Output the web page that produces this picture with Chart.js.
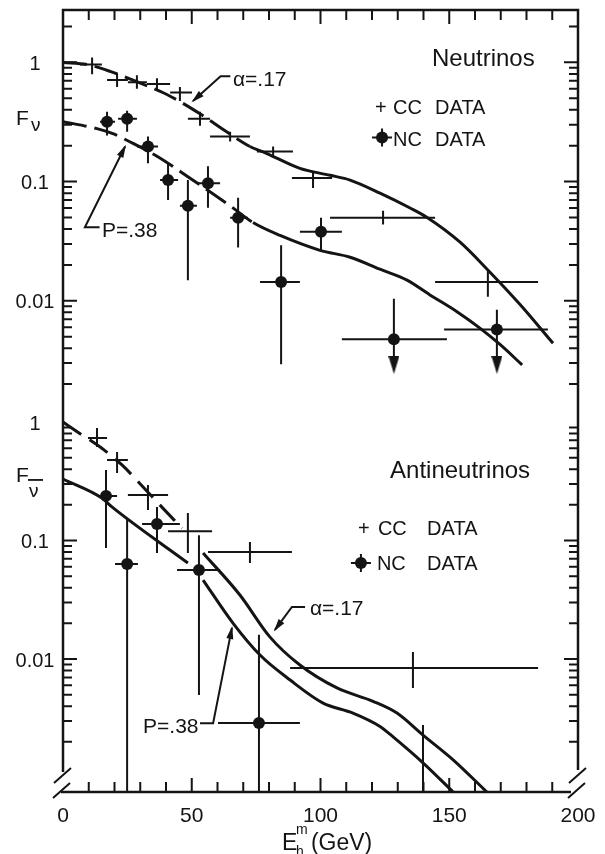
<!DOCTYPE html>
<html>
<head>
<meta charset="utf-8">
<script src="https://cdn.jsdelivr.net/npm/chart.js@4.4.1/dist/chart.umd.min.js"></script>
<style>
  html, body { margin: 0; padding: 0; background: #fff; }
  #wrap { position: relative; width: 605px; height: 854px; }
  #wrap canvas { position: absolute; left: 0; top: 0; }
</style>
</head>
<body>
<div id="wrap">
  <canvas id="nuChart" width="605" height="854"></canvas>
  <canvas id="nubarChart" width="605" height="854"></canvas>
</div>
<script>
// ---------- neutrinos (upper panel) ----------
const ccNuE   = [11.3, 21.0, 28.7, 36.5, 45.4, 53.2, 64.9, 81.6, 97.1, 124.3, 165.0];
const ccNuELo = [6.6, 17.1, 25.2, 32.6, 41.6, 48.5, 57.1, 75.3, 88.9, 103.7, 144.5];
const ccNuEHi = [15.1, 25.2, 32.6, 41.6, 50.1, 57.1, 72.6, 89.3, 104.5, 144.5, 184.5];
const ccNuF   = [0.96, 0.71, 0.68, 0.66, 0.56, 0.336, 0.239, 0.179, 0.107, 0.0498, 0.0144];
const ccNuFLo = [0.795, 0.62, 0.60, 0.586, 0.475, 0.294, 0.217, 0.163, 0.0883, 0.0436, 0.0108];
const ccNuFHi = [1.10, 0.81, 0.78, 0.736, 0.62, 0.385, 0.262, 0.197, 0.122, 0.0569, 0.0185];

const ncNuE   = [17.1, 24.9, 33.0, 40.8, 48.5, 56.3, 68.0, 84.7, 100.2, 128.5, 168.5];
const ncNuELo = [14.4, 21.4, 28.7, 37.7, 45.4, 52.4, 64.9, 76.5, 92.0, 108.3, 148.0];
const ncNuEHi = [20.2, 28.7, 36.9, 44.7, 52.0, 61.0, 71.8, 92.0, 108.3, 149.1, 188.3];
const ncNuF   = [0.318, 0.336, 0.197, 0.103, 0.0626, 0.097, 0.0498, 0.0144, 0.038, 0.00475, 0.00575];
const ncNuFLo = [0.243, 0.262, 0.1425, 0.0702, 0.0149, 0.0603, 0.028, 0.00294, 0.0265, 0.0029, 0.0029];
const ncNuFHi = [0.385, 0.392, 0.239, 0.1425, 0.103, 0.1345, 0.073, 0.0292, 0.0498, 0.0104, 0.0084];
// upper limits -> arrow heads
const ulNuE = [128.5, 168.5];
const ulNuF = [0.0029, 0.0029];

const fitAlphaNuE = [0, 9.3, 18.3, 33.8, 41.6, 53.2, 63.7, 72.6, 79.2, 92.0, 103.7, 111.5, 123.1, 134.8, 141.4, 154.2, 164.7, 177.5, 190.3];
const fitAlphaNuF = [1.0, 0.96, 0.84, 0.62, 0.52, 0.37, 0.26, 0.197, 0.172, 0.129, 0.113, 0.103, 0.080, 0.060, 0.050, 0.031, 0.0184, 0.0093, 0.0044];
const fitPNuE = [0, 13.2, 19.4, 27.2, 36.5, 48.2, 64.9, 73.8, 84.3, 99.8, 111.5, 123.1, 133.6, 142.5, 153.0, 161.9, 169.7, 178.3];
const fitPNuF = [0.318, 0.278, 0.252, 0.209, 0.163, 0.111, 0.0626, 0.0453, 0.0353, 0.0265, 0.0232, 0.0184, 0.0149, 0.0112, 0.0081, 0.0059, 0.0043, 0.0029];

// ---------- antineutrinos (lower panel) ----------
const ccBarE   = [13.2, 21.0, 33.0, 48.5, 72.6, 135.9, 139.8];
const ccBarELo = [9.7, 17.1, 25.2, 40.8, 56.3, 88.2, 139.8];
const ccBarEHi = [17.1, 25.2, 40.8, 57.9, 88.9, 184.5, 139.8];
const ccBarF   = [0.733, 0.478, 0.242, 0.12, 0.080, 0.0084, 0.0005];
const ccBarFLo = [0.615, 0.371, 0.181, 0.0785, 0.0646, 0.00569, 0.0003];
const ccBarFHi = [0.89, 0.558, 0.294, 0.171, 0.097, 0.01146, 0.00277];

const ncBarE   = [16.7, 24.9, 36.5, 52.8, 76.1];
const ncBarELo = [13.2, 20.2, 30.7, 44.3, 60.2];
const ncBarEHi = [21.0, 29.1, 45.4, 61.0, 92.0];
const ncBarF   = [0.238, 0.0634, 0.138, 0.0564, 0.00288];
const ncBarFLo = [0.0865, 0.0003, 0.0785, 0.00497, 0.0003];
const ncBarFHi = [0.394, 0.155, 0.192, 0.111, 0.016];

const fitAlphaLowE  = [0, 5.8, 15.1, 18.3, 22.9, 31.1, 36.9, 46.2];
const fitAlphaLowF  = [1.0, 0.82, 0.60, 0.527, 0.434, 0.283, 0.207, 0.127];
const fitAlphaHighE = [54.4, 68.7, 80.4, 92.0, 106.4, 120.4, 129.7, 139.8, 151.5, 165.0];
const fitAlphaHighF = [0.0785, 0.0347, 0.0153, 0.0089, 0.0057, 0.0044, 0.0035, 0.00228, 0.00141, 0.00074];
const fitPLowE  = [0, 15.1, 19.0, 48.5];
const fitPLowF  = [0.33, 0.228, 0.192, 0.0646];
const fitPHighE = [54.4, 66.0, 76.5, 88.2, 101.0, 112.6, 123.1, 128.2, 139.8, 151.5];
const fitPHighF = [0.0464, 0.0201, 0.0108, 0.00665, 0.00425, 0.0035, 0.0027, 0.0022, 0.00133, 0.000755];

// ---------- axes ----------
const xTickValues = [10, 20, 30, 40, 50, 60, 70, 80, 90, 100, 110, 120, 130, 140, 150, 160, 170, 180, 190];
const xLabelValues = [0, 50, 100, 150, 200];
const xTickLabels = ['0', '50', '100', '150', '200'];
const yLabelValues = [1, 0.1, 0.01];
const yTickLabels = ['1', '0.1', '0.01'];

const ink = '#141414';
const fontFam = '"Liberation Sans", Arial, sans-serif';

// arrow head used as point style for the upper limits
const arrowHead = document.createElement('canvas');
arrowHead.width = 11; arrowHead.height = 18;
(function () {
  const g = arrowHead.getContext('2d');
  g.fillStyle = ink;
  g.beginPath(); g.moveTo(0, 0); g.lineTo(11, 0); g.lineTo(5.5, 18); g.closePath(); g.fill();
})();

function pts(E, F) { return E.map((v, i) => ({ x: v, y: F[i] })); }
function hBars(lo, hi, F) {
  const d = [];
  lo.forEach((v, i) => d.push({ x: v, y: F[i] }, { x: hi[i], y: F[i] }, { x: hi[i], y: null }));
  return d;
}
function vBars(E, lo, hi) {
  const d = [];
  E.forEach((v, i) => d.push({ x: v, y: lo[i] }, { x: v, y: hi[i] }, { x: v, y: null }));
  return d;
}
function barSet(data) {
  return { data, borderColor: ink, borderWidth: 2, pointRadius: 0, showLine: true, spanGaps: false };
}
function curveSet(data, extra) {
  return Object.assign({ data, borderColor: ink, borderWidth: 3, pointRadius: 0, showLine: true,
    cubicInterpolationMode: 'monotone', borderCapStyle: 'butt' }, extra || {});
}
function markSet(data) {
  return { data, showLine: false, pointRadius: 6, pointStyle: 'circle', backgroundColor: ink, borderWidth: 0 };
}

// ---------- frame, ticks and texts ----------
function framePlugin(cfg) {
  return {
    id: 'frame',
    afterDatasetsDraw(chart) {
      const { ctx, chartArea: a } = chart;
      const sx = chart.scales.x, sy = chart.scales.y;
      const px = v => sx.getPixelForValue(v), py = v => sy.getPixelForValue(v);
      ctx.save();
      ctx.strokeStyle = ink; ctx.fillStyle = ink;

      ctx.lineWidth = 2.5;
      ctx.beginPath();
      const t0 = cfg.top ? a.top - 1.25 : a.top;
      ctx.moveTo(a.left, t0); ctx.lineTo(a.left, cfg.bottom ? a.bottom - 20 : a.bottom);
      ctx.moveTo(a.right, t0); ctx.lineTo(a.right, cfg.bottom ? a.bottom - 22 : a.bottom);
      if (cfg.top) { ctx.moveTo(a.left, a.top); ctx.lineTo(a.right, a.top); }
      if (cfg.bottom) { ctx.moveTo(a.left - 2, a.bottom); ctx.lineTo(a.right - 7, a.bottom); }
      ctx.stroke();

      ctx.lineWidth = 2;
      ctx.beginPath();
      if (cfg.bottom) {
        [a.left, a.right].forEach(cx => {
          ctx.moveTo(cx - 9, a.bottom - 9); ctx.lineTo(cx + 8, a.bottom - 24);
          ctx.moveTo(cx - 10, a.bottom + 6); ctx.lineTo(cx + 7, a.bottom - 9);
        });
      }
      const lo = Math.floor(Math.log10(sy.min)), hi = Math.ceil(Math.log10(sy.max));
      for (let e = lo; e <= hi; e++) {
        for (let d = 1; d <= 9; d++) {
          const y = py(d * Math.pow(10, e));
          if (y < a.top + 2 || y > (cfg.bottom ? a.bottom - 30 : a.bottom - 3)) continue;
          const len = d === 1 ? 14 : 9;
          ctx.moveTo(a.left, y); ctx.lineTo(a.left + len, y);
          ctx.moveTo(a.right, y); ctx.lineTo(a.right - len, y);
        }
      }
      xTickValues.forEach(v => {
        const x = px(v), len = v % 50 === 0 ? 14 : 10;
        if (cfg.top) { ctx.moveTo(x, a.top); ctx.lineTo(x, a.top + len); }
        if (cfg.bottom) { ctx.moveTo(x, a.bottom); ctx.lineTo(x, a.bottom - len); }
      });
      ctx.stroke();

      // y labels
      ctx.font = `20px ${fontFam}`;
      ctx.textAlign = 'center'; ctx.textBaseline = 'middle';
      yLabelValues.forEach((v, i) => ctx.fillText(yTickLabels[i], 35, py(v) + 2));

      ctx.textBaseline = 'alphabetic';
      if (cfg.bottom) {
        ctx.font = `21px ${fontFam}`;
        xLabelValues.forEach((v, i) => ctx.fillText(xTickLabels[i], px(v), a.bottom + 30));
        const ex = px(85);
        ctx.textAlign = 'left';
        ctx.font = `23px ${fontFam}`;
        ctx.fillText('E', ex, a.bottom + 58);
        ctx.fillText('(GeV)', ex + 29, a.bottom + 58);
        ctx.font = `14px ${fontFam}`;
        ctx.fillText('m', ex + 14, a.bottom + 42);
        ctx.fillText('h', ex + 14, a.bottom + 64);
      }

      // y title
      ctx.textAlign = 'left';
      const fy = py(cfg.yTitle.y);
      ctx.font = `21px ${fontFam}`;
      ctx.fillText('F', 16, fy);
      ctx.font = `19px ${fontFam}`;
      if (cfg.yTitle.bar) {
        ctx.fillText('\u03bd', 29, fy + 15);
        ctx.lineWidth = 1.8;
        ctx.beginPath(); ctx.moveTo(28, fy - 2); ctx.lineTo(43, fy - 2); ctx.stroke();
      } else {
        ctx.fillText('\u03bd', 31, fy + 6);
      }

      // texts
      cfg.texts.forEach(t => {
        ctx.font = `${t.size}px ${fontFam}`;
        ctx.textAlign = 'left';
        ctx.fillText(t.t, px(t.x), py(t.y));
      });

      // NC legend marker
      const mx = px(cfg.ncMarker.x), my = py(cfg.ncMarker.y);
      ctx.beginPath(); ctx.arc(mx, my, 6, 0, Math.PI * 2); ctx.fill();
      ctx.lineWidth = 2;
      ctx.beginPath();
      ctx.moveTo(mx - 10, my); ctx.lineTo(mx + 10, my);
      ctx.moveTo(mx, my - 9); ctx.lineTo(mx, my + 9);
      ctx.stroke();

      // leader lines with arrow heads
      cfg.leaders.forEach(l => {
        const p = l.map(q => [px(q[0]), py(q[1])]);
        ctx.lineWidth = 2;
        ctx.beginPath();
        p.forEach((q, i) => i ? ctx.lineTo(q[0], q[1]) : ctx.moveTo(q[0], q[1]));
        ctx.stroke();
        const [x1, y1] = p[p.length - 2], [x2, y2] = p[p.length - 1];
        const ang = Math.atan2(y2 - y1, x2 - x1);
        ctx.save();
        ctx.translate(x2, y2); ctx.rotate(ang);
        ctx.beginPath(); ctx.moveTo(2, 0); ctx.lineTo(-11, -3.5); ctx.lineTo(-11, 3.5); ctx.closePath(); ctx.fill();
        ctx.restore();
      });
      ctx.restore();
    }
  };
}

function baseOptions(padding, yMin, yMax) {
  return {
    responsive: false, animation: false, events: [],
    layout: { padding },
    plugins: { legend: { display: false }, tooltip: { enabled: false } },
    scales: {
      x: { type: 'linear', min: 0, max: 200, display: false },
      y: { type: 'logarithmic', min: yMin, max: yMax, display: false, bounds: 'data' }
    }
  };
}

const dashEarly = { segment: { borderDash: c => (c.p0.parsed.x < 70 ? [24, 8] : undefined) } };

new Chart(document.getElementById('nuChart'), {
  type: 'line',
  data: {
    datasets: [
      curveSet(pts(fitAlphaNuE, fitAlphaNuF), dashEarly),
      curveSet(pts(fitPNuE, fitPNuF), dashEarly),
      barSet(hBars(ccNuELo, ccNuEHi, ccNuF)),
      barSet(vBars(ccNuE, ccNuFLo, ccNuFHi)),
      barSet(hBars(ncNuELo, ncNuEHi, ncNuF)),
      barSet(vBars(ncNuE, ncNuFLo, ncNuFHi)),
      markSet(pts(ncNuE, ncNuF)),
      { data: pts(ulNuE, ulNuF), showLine: false, pointStyle: arrowHead, pointRadius: 9 }
    ]
  },
  options: baseOptions({ left: 63, right: 27, top: 5, bottom: 434 }, 0.001, 2.75),
  plugins: [framePlugin({
    top: true, bottom: false,
    yTitle: { y: 0.30, bar: false },
    ncMarker: { x: 123.9, y: 0.234 },
    texts: [
      { t: 'Neutrinos', x: 143.3, y: 0.926, size: 24 },
      { t: '+', x: 121.2, y: 0.37, size: 20 },
      { t: 'CC', x: 128.2, y: 0.37, size: 20 },
      { t: 'DATA', x: 144.5, y: 0.37, size: 20 },
      { t: 'NC', x: 128.2, y: 0.197, size: 20 },
      { t: 'DATA', x: 144.5, y: 0.197, size: 20 },
      { t: '\u03b1=.17', x: 66.0, y: 0.632, size: 21 },
      { t: 'P=.38', x: 15.1, y: 0.034, size: 21 }
    ],
    leaders: [
      [[65.0, 0.765], [61.2, 0.765], [50.5, 0.475]],
      [[14.2, 0.0413], [8.5, 0.0413], [24.1, 0.197]]
    ]
  })]
});

new Chart(document.getElementById('nubarChart'), {
  type: 'line',
  data: {
    datasets: [
      curveSet(pts(fitAlphaLowE, fitAlphaLowF), { borderDash: [22, 10] }),
      curveSet(pts(fitPLowE, fitPLowF)),
      curveSet(pts(fitAlphaHighE, fitAlphaHighF)),
      curveSet(pts(fitPHighE, fitPHighF)),
      barSet(hBars(ccBarELo, ccBarEHi, ccBarF)),
      barSet(vBars(ccBarE, ccBarFLo, ccBarFHi)),
      barSet(hBars(ncBarELo, ncBarEHi, ncBarF)),
      barSet(vBars(ncBarE, ncBarFLo, ncBarFHi)),
      markSet(pts(ncBarE, ncBarF))
    ]
  },
  options: baseOptions({ left: 63, right: 27, top: 420, bottom: 62 }, 0.000755, 1.0396),
  plugins: [framePlugin({
    top: false, bottom: true,
    yTitle: { y: 0.312, bar: true },
    ncMarker: { x: 115.7, y: 0.0646 },
    texts: [
      { t: 'Antineutrinos', x: 127.0, y: 0.337, size: 24 },
      { t: '+', x: 114.6, y: 0.111, size: 20 },
      { t: 'CC', x: 122.3, y: 0.111, size: 20 },
      { t: 'DATA', x: 141.4, y: 0.111, size: 20 },
      { t: 'NC', x: 121.9, y: 0.0564, size: 20 },
      { t: 'DATA', x: 141.4, y: 0.0564, size: 20 },
      { t: '\u03b1=.17', x: 95.9, y: 0.0235, size: 21 },
      { t: 'P=.38', x: 31.1, y: 0.00238, size: 21 }
    ],
    leaders: [
      [[94.0, 0.0275], [88.9, 0.0275], [82.3, 0.0176]],
      [[53.2, 0.00287], [58.3, 0.00287], [65.6, 0.0183]]
    ]
  })]
});
</script>
</body>
</html>
